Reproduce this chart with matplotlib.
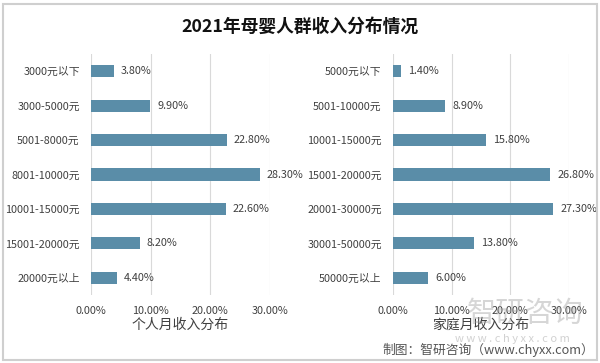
import matplotlib.pyplot as plt
from matplotlib.patches import Rectangle

plt.rcParams['font.family'] = ['Noto Sans CJK SC', 'DejaVu Sans']

# personal monthly income
person_cats = ['3000元以下', '3000-5000元', '5001-8000元', '8001-10000元',
               '10001-15000元', '15001-20000元', '20000元以上']
person_vals = [3.8, 9.9, 22.8, 28.3, 22.6, 8.2, 4.4]

# household monthly income
family_cats = ['5000元以下', '5001-10000元', '10001-15000元', '15001-20000元',
               '20001-30000元', '30001-50000元', '50000元以上']
family_vals = [1.4, 8.9, 15.8, 26.8, 27.3, 13.8, 6.0]

xticks = [0, 10, 20, 30]

bar_color = '#5a8da8'
text_color = '#404040'
W, H = 600, 363

fig = plt.figure(figsize=(6, 3.63), dpi=100)
fig.patch.set_facecolor('white')

# gray frame around the whole picture
fig.patches.append(Rectangle((3 / W, 3 / H), 594 / W, 356 / H, transform=fig.transFigure,
                             fill=False, edgecolor='#cfcfcf', linewidth=1.5))

fig.text(300 / W, 1 - 27 / H, '2021年母婴人群收入分布情况', ha='center', va='center',
         fontsize=12.8, fontweight='bold', color='#111111')


def draw_panel(left, right, cats, vals, xlabel):
    top, bottom = 54, 295
    ax = fig.add_axes([left / W, 1 - bottom / H, (right - left) / W, (bottom - top) / H])
    y = list(range(len(cats)))
    ax.barh(y, vals, height=0.35, color=bar_color, zorder=3)
    ax.set_xlim(0, 30)
    ax.set_ylim(len(cats) - 0.5, -0.5)
    ax.set_yticks(y)
    ax.set_yticklabels(cats, fontsize=7.8, color=text_color)
    ax.set_xticks(xticks)
    ax.set_xticklabels(['%.2f%%' % v for v in xticks], fontsize=7.8, color=text_color)
    ax.tick_params(axis='both', length=0)
    ax.tick_params(axis='y', pad=8)
    ax.tick_params(axis='x', pad=8)
    ax.grid(axis='x', color='#d9d9d9', linewidth=0.8, zorder=0)
    for s in ax.spines.values():
        s.set_visible(False)
    for yi, v in zip(y, vals):
        ax.annotate('%.2f%%' % v, (v, yi), xytext=(5, 0), textcoords='offset points',
                    va='center', ha='left', fontsize=7.8, color=text_color,
                    annotation_clip=False)
    ax.set_xlabel(xlabel, fontsize=10, color=text_color, labelpad=1)
    return ax


draw_panel(91, 270, person_cats, person_vals, '个人月收入分布')
draw_panel(393, 569, family_cats, family_vals, '家庭月收入分布')

# watermark (faint, sits behind the axis text as in the source image)
fig.text(525 / W, 1 - 314 / H, '智研咨询', ha='center', va='center', fontsize=21,
         color='#9a9a9a', alpha=0.4, zorder=0)
fig.text(512 / W, 1 - 339 / H, 'w w w . c h y x x . c o m', ha='center', va='center',
         fontsize=8, color='#9a9a9a', alpha=0.45, zorder=0)

fig.text(594 / W, 1 - 350 / H, '制图：智研咨询（www.chyxx.com）', ha='right', va='center',
         fontsize=9.2, color='#555555')

fig.savefig('out.png', dpi=100)
